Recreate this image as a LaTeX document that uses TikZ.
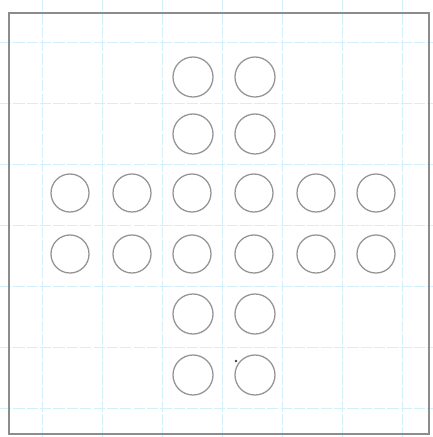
\documentclass[tikz,border=0pt]{standalone}
\begin{document}
\begin{tikzpicture}[x=0.025cm,y=-0.025cm,
        griglia/.style={draw=cyan!18!white,line width=0.5pt,dash pattern=on 8pt off 1.5pt},
        matita/.style={draw=black!45,line width=0.8pt},
        buco/.style={circle,draw=black!42,line width=0.9pt,inner sep=0pt,minimum size=#1},
        buco/.default=1cm]

        \useasboundingbox (0,0) rectangle (433,437);

            %griglia del foglio
            \foreach \gx in {42,102,...,402} \draw[griglia] (\gx,0)--++(0,437);
            \foreach \gy in {42,103,...,408} \draw[griglia] (0,\gy)--++(433,0);

            %cornice
            \draw[matita] (9,13) rectangle (429,434);

            %buchi colonna centrale
            \foreach \r/\y in {1/77,2/134,5/314,6/375}
                \foreach \c/\x in {3/193,4/255}
                    \node[buco] (b\r\c) at (\x,\y) {};

            %buchi riga centrale
            \foreach \r/\y in {3/193,4/254}
                \foreach \c/\x in {1/70,2/132,3/192,4/254,5/316,6/376}
                    \node[buco=0.95cm] (b\r\c) at (\x,\y) {};

            %segno a matita
            \fill[black!75] (236,361) circle (0.9pt);
        \end{tikzpicture}
\end{document}
